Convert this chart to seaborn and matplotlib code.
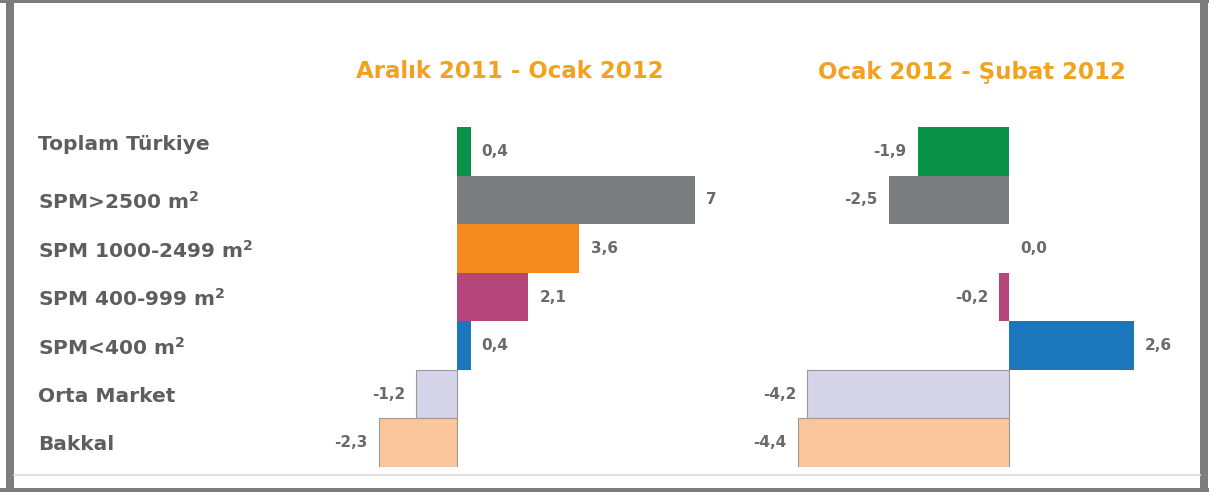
import matplotlib
matplotlib.use("Agg")
import matplotlib.pyplot as plt
import matplotlib.transforms as mtransforms
import seaborn as sns
import pandas as pd
from matplotlib.patches import Rectangle
from matplotlib.lines import Line2D

categories = [
    "Toplam Türkiye",
    r"SPM>2500 m$^{\mathbf{2}}$",
    r"SPM 1000-2499 m$^{\mathbf{2}}$",
    r"SPM 400-999 m$^{\mathbf{2}}$",
    r"SPM<400 m$^{\mathbf{2}}$",
    "Orta Market",
    "Bakkal",
]
period_titles = ["Aralık 2011 - Ocak 2012", "Ocak 2012 - Şubat 2012"]
values_dec_jan = [0.4, 7.0, 3.6, 2.1, 0.4, -1.2, -2.3]
values_jan_feb = [-1.9, -2.5, 0.0, -0.2, 2.6, -4.2, -4.4]
labels_dec_jan = ["0,4", "7", "3,6", "2,1", "0,4", "-1,2", "-2,3"]
labels_jan_feb = ["-1,9", "-2,5", "0,0", "-0,2", "2,6", "-4,2", "-4,4"]
bar_colors = ["#0B924A", "#7B7C80", "#F58A20", "#B5467B", "#1B76BC", "#D4D3E8", "#FBC69B"]

sns.set_theme(style="white")
plt.rcParams["font.family"] = ["DejaVu Sans"]

W, H = 1209, 492
fig = plt.figure(figsize=(W / 100, H / 100), dpi=100)
fig.patch.set_facecolor("white")

def px_axes(x0, x1, y0, y1):
    return fig.add_axes([x0 / W, 1 - y1 / H, (x1 - x0) / W, (y1 - y0) / H])

# axes pixel extents (zero line at x=457 left, x=1009 right)
ax1 = px_axes(330, 740, 127, 467)
ax2 = px_axes(745, 1195, 127, 467)
ax1.set_xlim(-(457 - 330) / 34.0, (740 - 457) / 34.0)
ax2.set_xlim(-(1009 - 745) / 48.0, (1195 - 1009) / 48.0)

label_color = "#5E5E5E"
value_color = "#6A6A6A"
title_color = "#F2A21E"

for ax, vals, labs, title in [
    (ax1, values_dec_jan, labels_dec_jan, period_titles[0]),
    (ax2, values_jan_feb, labels_jan_feb, period_titles[1]),
]:
    df = pd.DataFrame({"cat": categories, "val": vals})
    sns.barplot(data=df, x="val", y="cat", hue="cat", palette=bar_colors,
                order=categories, hue_order=categories, legend=False,
                width=1.0, orient="h", ax=ax, saturation=1)
    for i, p in enumerate(ax.patches):
        if i >= 5:
            p.set_edgecolor("#9A9A9A")
            p.set_linewidth(0.8)
        else:
            p.set_linewidth(0)
    ax.set_ylim(6.5, -0.5)
    for i, (v, t) in enumerate(zip(vals, labs)):
        if v >= 0:
            ax.annotate(t, (v, i), xytext=(8, 0), textcoords="offset points",
                        ha="left", va="center", fontsize=11, fontweight="bold",
                        color=value_color)
        else:
            ax.annotate(t, (v, i), xytext=(-8, 0), textcoords="offset points",
                        ha="right", va="center", fontsize=11, fontweight="bold",
                        color=value_color)
    ax.set_xlabel("")
    ax.set_ylabel("")
    ax.set_xticks([])
    for s in ax.spines.values():
        s.set_visible(False)
    ax.patch.set_alpha(0)

# category labels on left axes
ax1.set_yticks(range(len(categories)))
ax1.set_yticklabels(categories, ha="left", fontsize=14.5, fontweight="bold",
                    color=label_color)
ax1.tick_params(axis="y", length=0, pad=(330 - 38) * 0.72)
first = ax1.get_yticklabels()[0]
first.set_transform(first.get_transform() +
                    mtransforms.ScaledTranslation(0, 9 / 100, fig.dpi_scale_trans))
ax2.set_yticks([])

# titles
fig.text(510 / W, 1 - 72 / H, period_titles[0], ha="center", va="center",
         fontsize=16.5, fontweight="bold", color=title_color)
fig.text(972 / W, 1 - 72 / H, period_titles[1], ha="center", va="center",
         fontsize=16.5, fontweight="bold", color=title_color)

# frame
frame_c = "#7D7D7D"
fig.add_artist(Rectangle((6 / W, 0), 8 / W, 1, transform=fig.transFigure,
                         facecolor=frame_c, edgecolor="none"))
fig.add_artist(Rectangle((1200 / W, 0), 8 / W, 1, transform=fig.transFigure,
                         facecolor=frame_c, edgecolor="none"))
fig.add_artist(Rectangle((0, 1 - 2.5 / H), 1, 2.5 / H, transform=fig.transFigure,
                         facecolor=frame_c, edgecolor="none"))
fig.add_artist(Rectangle((0, 0), 1, 4 / H, transform=fig.transFigure,
                         facecolor=frame_c, edgecolor="none"))
fig.add_artist(Line2D([14 / W, 1200 / W], [1 - 475 / H, 1 - 475 / H],
                      transform=fig.transFigure, color="#E2E2E2", lw=1.5))

fig.savefig("out.png", dpi=100)
